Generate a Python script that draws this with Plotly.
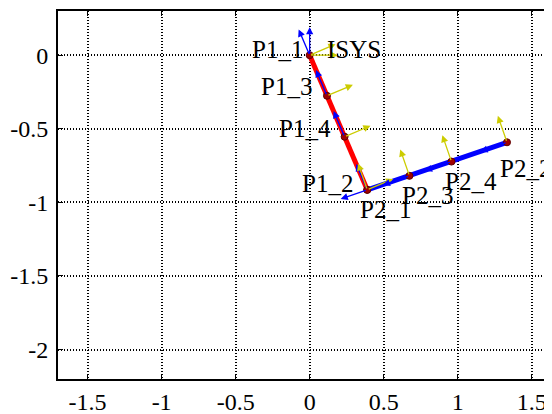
import numpy as np
import plotly.graph_objects as go

# ---- data ----
point_names = ["P1_1", "P1_3", "P1_4", "P1_2", "P2_1", "P2_3", "P2_4", "P2_2"]
point_x = [0.0, 0.117, 0.236, 0.389, 0.389, 0.674, 0.958, 1.333]
point_y = [0.0, -0.276, -0.554, -0.915, -0.915, -0.820, -0.723, -0.592]
point_link = [1, 1, 1, 1, 2, 2, 2, 2]
frame_angle_deg = [23, 23, 23, 23, 109, 109, 109, 109]

isys_name = "ISYS"
isys_x = [0.0]
isys_y = [0.0]
isys_angle_deg = [0]

axis_len = 0.19

x_ticks = [-1.5, -1, -0.5, 0, 0.5, 1, 1.5]
x_tick_labels = ["-1.5", "-1", "-0.5", "0", "0.5", "1", "1.5"]
y_ticks = [0, -0.5, -1, -1.5, -2]
y_tick_labels = ["0", "-0.5", "-1", "-1.5", "-2"]

# ---- styles / label placement (pixels) ----
LINK_COLORS = {1: "#ff0000", 2: "#0000ff"}
X_AXIS_COLOR = "#cccc00"
Y_AXIS_COLOR = "#0000ff"
FONT = "Liberation Serif, Times New Roman, serif"
label_place = {
    "P1_1": ("right", -5, 6),
    "P1_3": ("right", -13, 9),
    "P1_4": ("right", -12, 8),
    "P1_2": ("right", -12, 6),
    "P2_1": ("left", -9, -20),
    "P2_3": ("left", -9, -20),
    "P2_4": ("left", -8, -20),
    "P2_2": ("left", -9, -26),
    "ISYS": ("left", 15, 6),
}

fig = go.Figure()

# links
for link in (1, 2):
    xs = [x for x, l in zip(point_x, point_link) if l == link]
    ys = [y for y, l in zip(point_y, point_link) if l == link]
    fig.add_trace(go.Scatter(x=xs, y=ys, mode="lines",
                             line=dict(color=LINK_COLORS[link], width=5),
                             showlegend=False, hoverinfo="skip"))

annotations = []


def add_frame(x0, y0, ang_deg):
    a = np.deg2rad(ang_deg)
    ex = (np.cos(a), np.sin(a))
    ey = (-np.sin(a), np.cos(a))
    for (dx, dy), col in ((ex, X_AXIS_COLOR), (ey, Y_AXIS_COLOR)):
        annotations.append(dict(
            x=x0 + axis_len * dx, y=y0 + axis_len * dy,
            ax=x0, ay=y0, xref="x", yref="y", axref="x", ayref="y",
            text="", showarrow=True, arrowhead=2, arrowsize=1.1,
            arrowwidth=1.3, arrowcolor=col, standoff=0, startstandoff=0))


add_frame(isys_x[0], isys_y[0], isys_angle_deg[0])
for x0, y0, ang in zip(point_x, point_y, frame_angle_deg):
    add_frame(x0, y0, ang)

# points
fig.add_trace(go.Scatter(x=point_x, y=point_y, mode="markers",
                         marker=dict(size=7, color="#a00000",
                                     line=dict(color="#600000", width=1)),
                         showlegend=False, hoverinfo="skip"))

# labels
for name, x0, y0 in list(zip(point_names, point_x, point_y)) + [(isys_name, isys_x[0], isys_y[0])]:
    anchor, xs, ys = label_place[name]
    annotations.append(dict(x=x0, y=y0, xref="x", yref="y", text=name,
                            showarrow=False, xanchor=anchor, yanchor="middle",
                            xshift=xs, yshift=ys,
                            font=dict(family=FONT, size=25, color="black")))

# the page body has an 8px default margin, so the figure is sized to fit the window
fig.update_layout(
    width=544, height=406,
    margin=dict(l=50, r=0, t=3, b=35, autoexpand=False),
    paper_bgcolor="white", plot_bgcolor="white",
    annotations=annotations,
    font=dict(family=FONT, size=24, color="black"),
)
fig.update_xaxes(range=[-1.7, 1.637], tickvals=x_ticks, ticktext=x_tick_labels,
                 automargin=False,
                 showgrid=True, gridcolor="black", griddash="1px,2px", gridwidth=1.5,
                 zeroline=False, showline=True, linecolor="black", linewidth=2,
                 mirror="ticks", ticks="inside", ticklen=5, tickcolor="black",
                 ticklabelstandoff=0)
fig.update_yaxes(range=[-2.2, 0.3], tickvals=y_ticks, ticktext=y_tick_labels,
                 automargin=False,
                 showgrid=True, gridcolor="black", griddash="1px,2px", gridwidth=1.5,
                 zeroline=False, showline=True, linecolor="black", linewidth=2,
                 mirror=False, ticks="inside", ticklen=5, tickcolor="black",
                 ticklabelstandoff=3)

fig.write_html("out.html")
